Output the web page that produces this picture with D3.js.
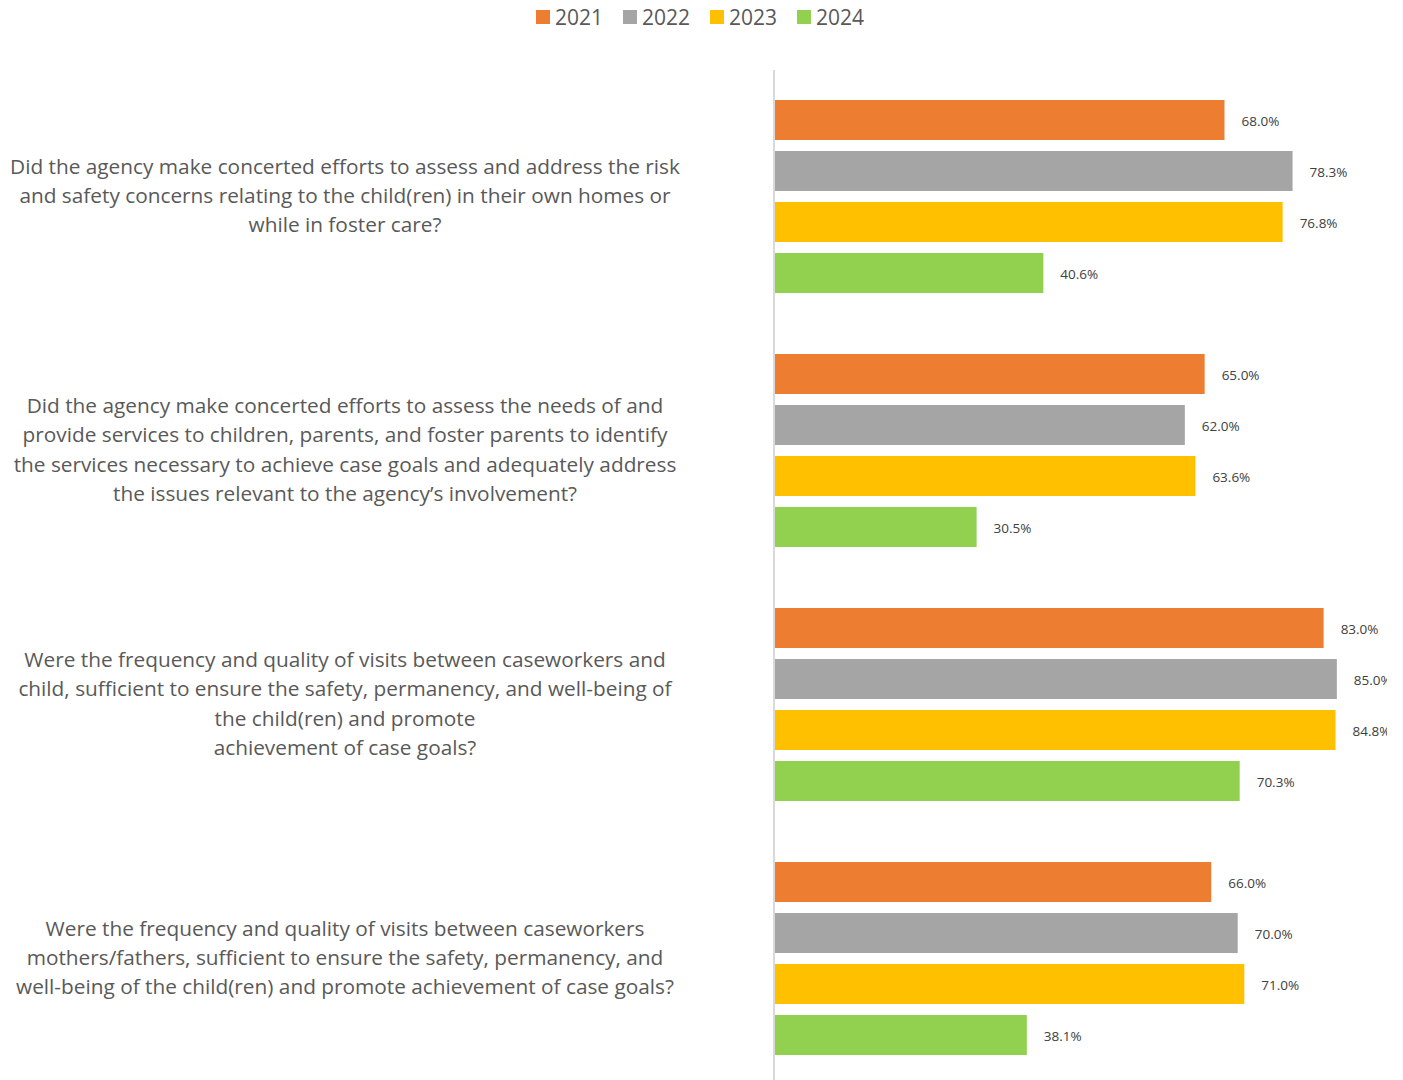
<!DOCTYPE html>
<html>
<head>
<meta charset="utf-8">
<script src="https://cdn.jsdelivr.net/npm/d3@7"></script>
<style>
  body { margin: 0; background: #fff; }
  svg { display: block; font-family: "Open Sans", sans-serif; }
</style>
</head>
<body>
<div id="chart"></div>
<script>
// chart data
const years = ["2021", "2022", "2023", "2024"];
const colors = ["#ed7d31", "#a5a5a5", "#ffc000", "#92d050"];
const questions = [
  ["Did the agency make concerted efforts to assess and address the risk",
   "and safety concerns relating to the child(ren) in their own homes or",
   "while in foster care?"],
  ["Did the agency make concerted efforts to assess the needs of and",
   "provide services to children, parents, and foster parents to identify",
   "the services necessary to achieve case goals and adequately address",
   "the issues relevant to the agency\u2019s involvement?"],
  ["Were the frequency and quality of visits between caseworkers and",
   "child, sufficient to ensure the safety, permanency, and well-being of",
   "the child(ren) and promote",
   "achievement of case goals?"],
  ["Were the frequency and quality of visits between caseworkers",
   "mothers/fathers, sufficient to ensure the safety, permanency, and",
   "well-being of the child(ren) and promote achievement of case goals?"]
];
const v2021 = [68.0, 65.0, 83.0, 66.0];
const v2022 = [78.3, 62.0, 85.0, 70.0];
const v2023 = [76.8, 63.6, 84.8, 71.0];
const v2024 = [40.6, 30.5, 70.3, 38.1];
const series = [v2021, v2022, v2023, v2024];

const width = 1403, height = 1080;
const svg = d3.select("#chart").append("svg")
  .attr("width", width)
  .attr("height", height);

// plot area is clipped on the right like the original
svg.append("clipPath").attr("id", "plotclip")
  .append("rect").attr("x", 0).attr("y", 0).attr("width", 1387).attr("height", height);

// scales
let x = d3.scaleLinear().domain([0, 100]).range([775, 1436]);
let y = d3.scaleBand().domain(d3.range(questions.length)).range([70, 1086]);
let yInner = d3.scaleBand().domain(years).range([30, 223]).paddingInner(11 / 51);

// legend
const legend = svg.append("g");
years.forEach((yr, i) => {
  const g = legend.append("g").attr("transform", `translate(${536 + i * 87},0)`);
  g.append("rect").attr("x", 0).attr("y", 10).attr("width", 14).attr("height", 14)
    .attr("fill", colors[i]);
  g.append("text").attr("x", 19).attr("y", 25)
    .style("font-size", "21px").attr("fill", "#595959").text(yr);
});

// bars
const plot = svg.append("g").attr("clip-path", "url(#plotclip)");
const groups = plot.selectAll("g.grp")
  .data(questions)
  .enter().append("g")
  .attr("class", "grp")
  .attr("transform", (d, i) => `translate(0,${y(i)})`);

groups.each(function(q, qi) {
  const g = d3.select(this);
  years.forEach((yr, si) => {
    const v = series[si][qi];
    g.append("rect")
      .attr("x", x(0))
      .attr("y", yInner(yr))
      .attr("width", x(v) - x(0))
      .attr("height", yInner.bandwidth())
      .attr("fill", colors[si]);
    g.append("text")
      .attr("x", x(v) + 17)
      .attr("y", yInner(yr) + yInner.bandwidth() / 2 + 6)
      .style("font-size", "13.5px")
      .attr("fill", "#404040")
      .text(v.toFixed(1) + "%");
  });

  // category label
  const lh = 29.4;
  const cy = y.bandwidth() / 2 + 6;
  const t = g.append("text")
    .attr("text-anchor", "middle")
    .style("font-size", "20.8px")
    .attr("fill", "#595959");
  q.forEach((line, li) => {
    t.append("tspan")
      .attr("x", 345)
      .attr("y", cy + (li - (q.length - 1) / 2) * lh)
      .text(line);
  });
});

// axis line
svg.append("line")
  .attr("x1", 774).attr("x2", 774)
  .attr("y1", 70).attr("y2", height)
  .attr("stroke", "#d9d9d9").attr("stroke-width", 2);
</script>
</body>
</html>
